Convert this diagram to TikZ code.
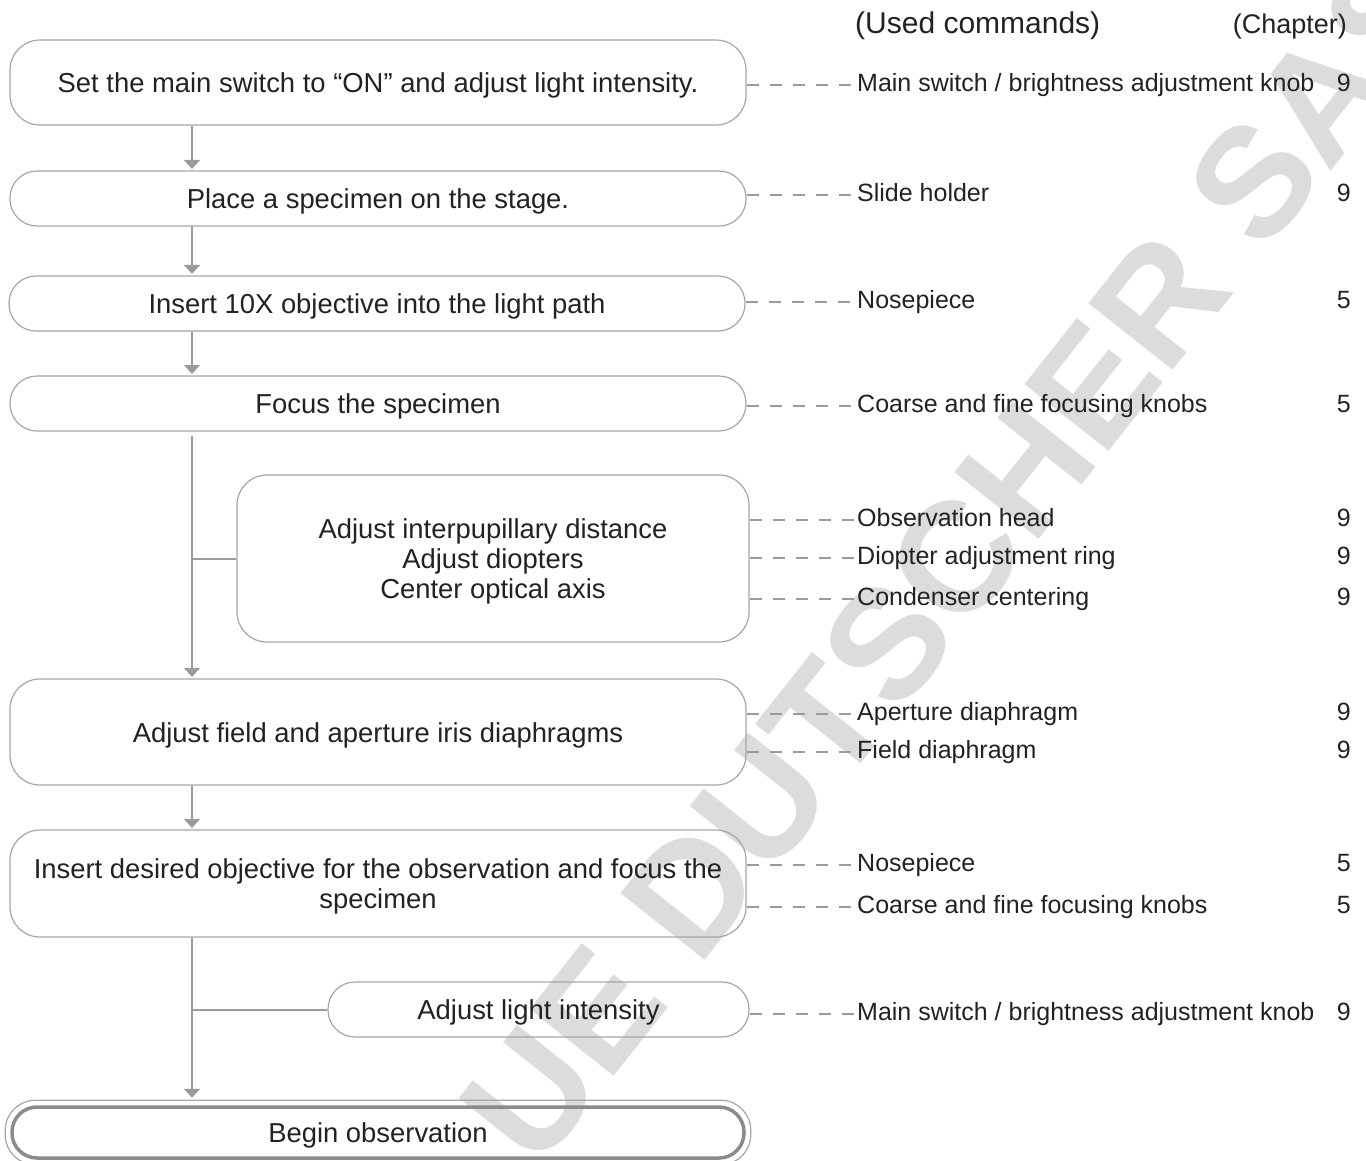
\documentclass[tikz,border=0pt]{standalone}
\usepackage{fontspec}
\setmainfont{Liberation Sans}
\usetikzlibrary{arrows.meta,calc}
\definecolor{txt}{HTML}{222222}
\definecolor{bord}{HTML}{A6A6A6}
\definecolor{conn}{HTML}{9B9B9B}
\definecolor{wm}{HTML}{DCDCDC}
\newcommand{\boxtxt}[1]{\raisebox{-4pt}[\height][\depth]{\begin{tabular}{@{}c@{}}#1\end{tabular}}}
\begin{document}
\begin{tikzpicture}[x=1pt,y=-1pt,
  box/.style={draw=bord, line width=1.2pt, rounded corners=27pt, text=txt,
    font=\fontsize{27.4pt}{30pt}\selectfont, inner sep=0pt, minimum width=736pt, minimum height=55pt},
  bigbox/.style={box, rounded corners=30pt},
  arr/.style={draw=conn, line width=2pt, -{Triangle[width=16pt,length=9pt]}, shorten >=1.5pt},
  ln/.style={draw=conn, line width=2pt},
  dsh/.style={draw=conn, line width=1.4pt, dash pattern=on 12pt off 11pt},
  lab/.style={anchor=base west, inner sep=0pt, text height=12.5pt, text depth=0pt, text=txt,
    font=\fontsize{25pt}{30pt}\selectfont},
  chap/.style={anchor=base east, inner sep=0pt, text=txt, font=\fontsize{25pt}{30pt}\selectfont},
  hdr/.style={inner sep=0pt, text=txt, font=\fontsize{30pt}{36pt}\selectfont},
  wmk/.style={inner sep=0pt, rotate=51.6, text=wm, font=\fontsize{156pt}{156pt}\bfseries\selectfont}
]
\useasboundingbox (0,0) rectangle (1366,1160);
\clip (0,0) rectangle (1366,1160);
\fill[white] (0,0) rectangle (1366,1160);

% watermark
\node[wmk] (wmark) at (958,555) {UE DUTSCHER SAS};

% headers
\node[hdr, anchor=base west] (h1) at (855,33) {(Used commands)};
\node[hdr, anchor=base east, font=\fontsize{27pt}{32pt}\selectfont] (h2) at (1347,33) {(Chapter)};

% boxes
\node[bigbox, minimum height=85pt] (b1) at (378,82.5) {\boxtxt{Set the main switch to “ON” and adjust light intensity.}};
\node[box] (b2) at (378,198.5) {\boxtxt{Place a specimen on the stage.}};
\node[box] (b3) at (377,303.5) {\boxtxt{Insert 10X objective into the light path}};
\node[box] (b4) at (378,403.5) {\boxtxt{Focus the specimen}};
\node[bigbox, minimum width=512pt, minimum height=167pt] (b5) at (493,558.5)
  {\boxtxt{Adjust interpupillary distance\\Adjust diopters\\Center optical axis}};
\node[bigbox, minimum height=106pt] (b6) at (378,732) {\boxtxt{Adjust field and aperture iris diaphragms}};
\node[bigbox, minimum height=107pt] (b7) at (378,883.5)
  {\boxtxt{Insert desired objective for the observation and focus the\\specimen}};
\node[box, minimum width=421pt] (b8) at (538.5,1009.5) {\boxtxt{Adjust light intensity}};
\node[box, draw=conn!90!black, line width=3.5pt, rounded corners=25pt, minimum width=732pt, minimum height=51pt]
  (b9) at (378,1132.5) {\boxtxt{Begin observation}};
\draw[draw=bord, line width=1.2pt, rounded corners=30pt]
  ($(b9.north west)+(-5,-5)$) rectangle ($(b9.south east)+(5,5)$);

% main flow
\coordinate (spine) at (192,0);
\draw[arr] (b1.south -| spine) -- (b2.north -| spine);
\draw[arr] (b2.south -| spine) -- (b3.north -| spine);
\draw[arr] (b3.south -| spine) -- (b4.north -| spine);
\draw[arr] ($(b4.south -| spine)+(0,4)$) -- (b6.north -| spine);
\draw[ln] (b5.west -| spine) -- (b5.west);
\draw[arr] (b6.south -| spine) -- (b7.north -| spine);
\draw[arr] (b7.south -| spine) -- ($(b9.north -| spine)+(0,-6)$);
\draw[ln] (b8.west -| spine) -- (b8.west);

% used commands
\node[lab] (l1) at (857,91.25) {Main switch / brightness adjustment knob};
\node[lab] (l2) at (857,201.25) {Slide holder};
\node[lab] (l3) at (857,308.25) {Nosepiece};
\node[lab] (l4) at (857,412.25) {Coarse and fine focusing knobs};
\node[lab] (l5) at (857,526.25) {Observation head};
\node[lab] (l6) at (857,564.25) {Diopter adjustment ring};
\node[lab] (l7) at (857,605.25) {Condenser centering};
\node[lab] (l8) at (857,720.25) {Aperture diaphragm};
\node[lab] (l9) at (857,758.25) {Field diaphragm};
\node[lab] (l10) at (857,871.25) {Nosepiece};
\node[lab] (l11) at (857,913.25) {Coarse and fine focusing knobs};
\node[lab] (l12) at (857,1020.25) {Main switch / brightness adjustment knob};

\draw[dsh] (l1.west -| b1.east) -- (l1.west);
\draw[dsh] (l2.west -| b2.east) -- (l2.west);
\draw[dsh] (l3.west -| b3.east) -- (l3.west);
\draw[dsh] (l4.west -| b4.east) -- (l4.west);
\draw[dsh] (l5.west -| b5.east) -- (l5.west);
\draw[dsh] (l6.west -| b5.east) -- (l6.west);
\draw[dsh] (l7.west -| b5.east) -- (l7.west);
\draw[dsh] (l8.west -| b6.east) -- (l8.west);
\draw[dsh] (l9.west -| b6.east) -- (l9.west);
\draw[dsh] (l10.west -| b7.east) -- (l10.west);
\draw[dsh] (l11.west -| b7.east) -- (l11.west);
\draw[dsh] (l12.west -| b8.east) -- (l12.west);

% chapters
\node[chap] (c1) at (1351,91.25) {9};
\node[chap] (c2) at (1351,201.25) {9};
\node[chap] (c3) at (1351,308.25) {5};
\node[chap] (c4) at (1351,412.25) {5};
\node[chap] (c5) at (1351,526.25) {9};
\node[chap] (c6) at (1351,564.25) {9};
\node[chap] (c7) at (1351,605.25) {9};
\node[chap] (c8) at (1351,720.25) {9};
\node[chap] (c9) at (1351,758.25) {9};
\node[chap] (c10) at (1351,871.25) {5};
\node[chap] (c11) at (1351,913.25) {5};
\node[chap] (c12) at (1351,1020.25) {9};
\end{tikzpicture}
\end{document}
